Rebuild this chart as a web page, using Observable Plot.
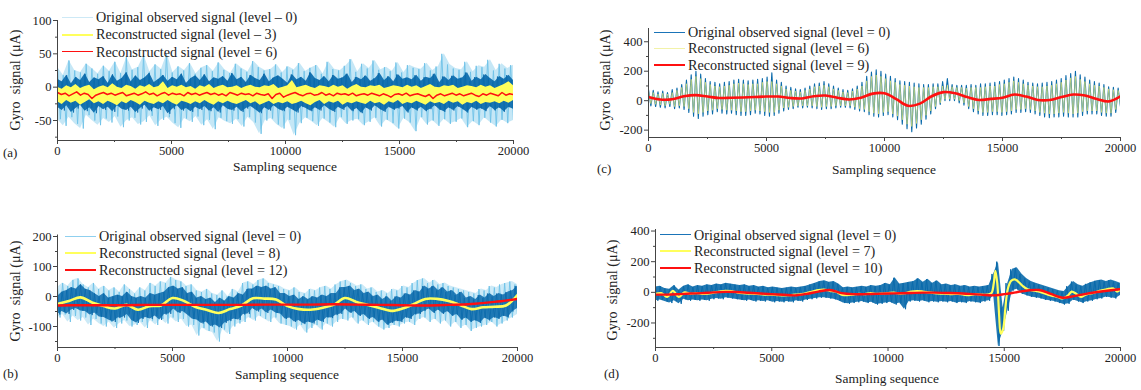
<!DOCTYPE html>
<html><head><meta charset="utf-8">
<script src="https://cdn.jsdelivr.net/npm/d3@7"></script>
<script src="https://cdn.jsdelivr.net/npm/@observablehq/plot@0.6"></script>
<style>
body{margin:0;background:#fff;}
#root{position:relative;width:1141px;height:390px;overflow:hidden;font-family:"Liberation Serif",serif;color:#222;}
.panel{position:absolute;}
.t{position:absolute;white-space:pre;line-height:1;font-size:14.2px;}
.c{transform:translate(-50%,-50%);font-size:13.4px;}
.v{transform:translate(-50%,-50%) rotate(-90deg);font-size:14.2px;}
.p{font-size:13px;}
.lg{position:absolute;height:0;}
</style></head><body><div id="root"></div>
<script>
// ---------- shared axis data ----------
const xTicks = [0, 5000, 10000, 15000, 20000];
const xMinor = [2500, 7500, 12500, 17500];

// ---------- panel (a) ----------
const aLight = [30,-48,18,-58,40,-45,25,-55,22,-62,35,-42,28,-50,20,-57,32,-47,24,-53,
38,-44,21,-60,45,-50,26,-46,30,-56,48,-52,23,-43,34,-58,27,-49,50,-45,
22,-54,31,-61,25,-47,36,-52,20,-44,29,-57,33,-49,24,-63,37,-46,26,-51,
21,-55,35,-48,28,-59,23,-45,39,-53,30,-70,25,-50,27,-47,34,-56,22,-62,
31,-49,26,-72,36,-54,24,-46,29,-51,33,-58,20,-47,38,-53,27,-60,25,-45,
32,-55,42,-50,23,-48,35,-57,28,-52,40,-46,26,-59,30,-49,24,-54,37,-62,
22,-47,33,-53,29,-66,27,-45,36,-56,25,-50,31,-58,50,-48,34,-55,28,-52,
26,-47,38,-60,23,-51,32,-57,30,-46,41,-53,25,-59,35,-49,28,-54,33,-50];
const aDark = [12,-30,8,-35,18,-28,5,-38,15,-32,10,-27,20,-36,7,-31,14,-39,11,-29,
16,-34,6,-30,19,-37,9,-28,13,-33,22,-35,8,-30,17,-38,10,-32,14,-27,
21,-36,7,-31,12,-34,18,-29,9,-40,15,-33,11,-28,20,-35,6,-32,13,-37,
17,-30,10,-34,19,-29,8,-36,14,-31,12,-38,16,-28,9,-33,21,-35,11,-30,
15,-37,7,-32,18,-29,13,-34,10,-39,20,-31,8,-35,14,-28,17,-33,12,-36,
6,-30,19,-34,11,-38,15,-29,9,-32,22,-36,13,-31,10,-35,16,-28,8,-33,
18,-37,12,-30,14,-34,20,-29,7,-36,15,-32,11,-39,17,-31,9,-35,13,-28,
21,-33,10,-37,16,-30,8,-34,19,-32,12,-29,14,-38,11,-31,18,-35,9,-30,
15,-36,13,-33,20,-28,7,-34,16,-37,10,-31,17,-35,12,-29,14,-33,22,-38,
9,-30,15,-34,11,-32,19,-36,13,-29,8,-35,16,-31,12,-37,18,-30,10,-33];
const aYel = [0,-22,-3,-26,2,-20,-1,-24,4,-21,-2,-27,1,-23,3,-19,-4,-25,0,-22,
2,-26,-1,-21,5,-24,0,-28,-2,-22,3,-25,1,-20,-3,-23,2,-27,0,-21,
4,-24,-1,-26,1,-22,8,-25,-2,-20,2,-24,0,-27,3,-21,-1,-23,1,-26,
-3,-22,2,-25,0,-20,4,-24,-2,-27,1,-22,3,-25,-1,-21,0,-24,2,-26,
-2,-23,1,-20,3,-25,0,-22,-1,-27,2,-24,1,-21,4,-26,-2,-23,0,-25,
2,-22,10,-26,-1,-24,1,-21,3,-25,0,-28,-2,-23,2,-20,1,-26,-1,-22,
3,-24,0,-21,2,-27,-3,-23,1,-25,4,-22,0,-24,-1,-26,2,-21,1,-25,
3,-23,-2,-27,0,-22,2,-24,1,-20,-1,-26,3,-23,0,-25,2,-21,-2,-24,
1,-27,4,-22,0,-25,-1,-23,2,-26,1,-21,3,-24,-2,-22,0,-27,2,-23,
1,-25,-1,-21,3,-26,0,-23,2,-24,-2,-22,1,-25,4,-21,8,-24,2,-20];
const aRed = [-8,-11,-9,-13,-10,-7,-12,-9,-11,-17,-12,-10,-8,-11,-9,-12,-10,-8,-13,-11,
-9,-12,-10,-7,-11,-9,-13,-10,-8,-12,-9,-11,-10,-13,-8,-11,-9,-12,-10,-8,
-11,-9,-12,-10,-13,-8,-10,-12,-9,-11,-10,-13,-9,-11,-12,-10,-17,-11,-9,-15,
-12,-10,-8,-11,-13,-10,-9,-12,-11,-8,-12,-10,-13,-9,-11,-10,-12,-9,-13,-11,
-10,-12,-9,-11,-13,-10,-12,-15,-11,-10,-12,-9,-13,-11,-10,-12,-14,-11,-17,-12,
-10,-13,-11,-9,-12,-10,-13,-11,-9,-12,-14,-10,-12,-9,-11,-13,-8,-12,-10,-11];

// ---------- panel (b) ----------
const bLight = [30,-70,45,-60,35,-85,55,-65,60,-80,40,-70,30,-95,45,-75,25,-90,35,-100,
20,-85,30,-105,15,-90,40,-80,25,-100,10,-95,30,-85,20,-105,45,-80,35,-95,
50,-75,45,-90,65,-70,55,-85,50,-75,35,-100,40,-95,20,-130,15,-105,25,-115,
10,-120,5,-150,20,-110,0,-125,25,-100,15,-90,45,-85,50,-70,40,-80,55,-65,
60,-75,45,-85,40,-70,35,-90,25,-95,20,-100,30,-110,15,-95,10,-120,25,-105,
20,-95,30,-110,35,-90,25,-100,40,-85,50,-75,55,-80,45,-70,35,-90,40,-80,
25,-95,30,-85,15,-100,20,-110,10,-105,25,-95,20,-100,35,-90,30,-85,45,-95,
55,-75,60,-70,45,-85,55,-75,40,-90,45,-80,35,-100,30,-85,25,-105,20,-95,
15,-115,10,-105,25,-100,20,-95,35,-85,30,-100,40,-90,45,-80,50,-70,40,-60];
const bDark = [0,-60,15,-50,20,-58,30,-45,25,-40,40,-48,25,-50,20,-62,10,-55,0,-68,
10,-70,-5,-78,0,-85,5,-72,0,-70,15,-60,0,-80,-5,-88,0,-75,-5,-70,
10,-75,5,-65,10,-78,15,-60,30,-58,35,-42,25,-55,30,-50,10,-62,15,-75,
-5,-78,0,-90,-10,-85,-5,-100,-20,-95,-5,-105,-15,-88,0,-82,-5,-75,10,-78,
5,-60,25,-58,25,-40,35,-50,30,-42,35,-55,25,-45,30,-55,10,-58,10,-75,
0,-72,5,-85,-10,-80,0,-92,-10,-85,0,-90,-5,-78,5,-85,0,-70,10,-72,
10,-62,30,-58,30,-42,35,-55,20,-50,25,-65,10,-60,15,-75,0,-70,5,-85,
-10,-78,0,-95,-15,-88,0,-82,-5,-85,10,-70,5,-75,20,-60,15,-58,35,-48,
25,-42,35,-55,20,-45,30,-58,15,-50,20,-65,5,-60,15,-78,-5,-72,0,-85,
-10,-80,5,-88,-5,-72,10,-80,0,-70,10,-75,5,-65,15,-70,20,-50,35,-40];
const bYel = [-25,-15,-3,-20,-32,-40,-28,-44,-32,-30,-5,-15,-35,-45,-55,-42,-30,-6,-7,-10,
-32,-42,-44,-38,-28,-5,-18,-28,-38,-48,-40,-25,-8,-8,-15,-28,-42,-36,-34,-30,5];
const bRed = [-30,-29,-29,-29,-28,-28,-28,-28,-28,-27,-27,-27,-26,-27,-28,-29,-30,-28,-25,-18,-8];

// ---------- panel (c) ----------
const cBlue = [75,-35,70,-40,60,-45,65,-50,55,-40,75,-55,85,-50,110,-60,140,-80,175,-105,
200,-120,180,-105,150,-95,130,-90,125,-75,115,-85,125,-90,130,-85,140,-95,145,-100,
140,-100,135,-95,140,-85,145,-90,150,-100,160,-105,190,-100,140,-85,125,-70,100,-60,
90,-55,80,-45,75,-50,85,-45,100,-50,115,-55,120,-60,130,-55,115,-55,100,-50,
85,-45,75,-45,70,-50,80,-60,100,-70,125,-75,165,-95,195,-105,210,-110,200,-100,
180,-95,165,-110,150,-130,135,-160,130,-190,125,-210,120,-185,115,-160,110,-125,110,-90,
115,-55,115,-25,130,0,150,0,110,0,105,-15,105,-30,105,-55,110,-75,105,-90,
115,-100,115,-100,120,-95,125,-95,130,-100,140,-95,150,-90,160,-80,150,-80,140,-75,
125,-80,120,-90,115,-100,120,-110,125,-115,130,-110,140,-110,150,-105,170,-110,185,-110,
200,-110,175,-100,160,-90,140,-90,130,-90,120,-100,110,-105,95,-105,90,-80,85,-40];
const cYel = [60,-20,55,-25,45,-30,50,-35,45,-25,55,-40,70,-35,90,-40,115,-55,145,-80,
165,-90,150,-80,125,-70,110,-65,100,-55,95,-60,100,-65,105,-65,115,-70,120,-75,
115,-75,110,-70,115,-65,115,-70,125,-75,130,-80,130,-80,115,-65,100,-50,80,-45,
70,-40,65,-35,60,-35,70,-35,80,-35,95,-40,100,-45,105,-40,95,-40,80,-35,
70,-35,60,-35,55,-35,65,-45,80,-55,100,-60,135,-75,165,-85,175,-90,165,-80,
150,-75,135,-90,125,-105,110,-130,105,-160,100,-175,95,-155,90,-130,90,-100,90,-70,
95,-40,95,-15,100,10,105,10,95,10,90,0,90,-15,85,-40,90,-55,90,-70,
90,-80,95,-80,100,-75,100,-75,110,-80,115,-75,125,-70,135,-60,125,-60,115,-55,
105,-60,100,-70,95,-80,95,-85,100,-90,105,-90,115,-85,125,-80,140,-85,155,-90,
165,-85,145,-75,130,-70,115,-70,105,-70,100,-80,90,-85,80,-85,75,-60,70,-25];
const cRed = [25,8,10,30,38,28,18,20,22,25,28,28,18,15,30,35,20,8,20,48,
50,10,-35,-20,30,58,50,25,5,12,20,42,28,5,5,25,42,35,12,-5,30];

// ---------- panel (d) ----------
const dBlue = [35,-55,40,-50,25,-60,20,-70,45,-55,15,-75,40,-45,50,-55,35,-50,45,-55,
40,-50,50,-55,45,-45,55,-40,50,-45,60,-35,55,-40,50,-45,45,-50,50,-55,
40,-50,45,-60,35,-55,40,-60,30,-55,35,-65,30,-60,25,-65,30,-60,35,-65,
30,-55,35,-60,40,-50,50,-45,60,-40,70,-35,75,-35,65,-40,70,-45,55,-55,
30,-70,35,-75,30,-70,35,-65,40,-60,35,-70,45,-65,40,-80,45,-75,60,-70,
50,-65,95,-80,55,-70,60,-110,65,-60,70,-55,90,-60,65,-55,85,-65,60,-60,
75,-65,50,-60,55,-65,45,-60,50,-70,40,-65,45,-70,35,-60,40,-65,35,-70,
40,-60,45,-55,120,-20,200,-350,-100,-250,60,-120,150,10,160,20,120,-10,90,-20,
70,-30,60,-35,50,-40,40,-50,30,-55,20,-60,10,-70,5,-80,40,-75,70,-50,
50,-60,40,-70,55,-60,65,-55,75,-45,80,-40,70,-30,80,-35,70,-40,60,-20];
const dYelX = [0,250,500,750,1000,1250,1500,1750,2000,2250,2500,2750,3000,3250,3500,3750,4000,4250,4500,4750,
5000,5250,5500,5750,6000,6250,6500,6750,7000,7250,7500,7750,8000,8250,8500,8750,9000,9250,9500,9750,
10000,10250,10500,10750,11000,11250,11500,11750,12000,12250,12500,12750,13000,13250,13500,13750,14000,14250,
14450,14550,14620,14700,14780,14850,14950,15050,15150,15300,15450,15600,15800,16000,16300,16600,17000,17300,
17500,17750,17900,18100,18300,18500,18800,19100,19400,19700,19850,20000];
const dYelY = [-10,-5,-30,10,-30,0,-10,-5,-10,-8,-2,5,10,8,0,-5,-8,-10,-12,-15,
-15,-18,-20,-18,-15,-12,-5,5,15,18,10,5,-15,-18,-15,-10,-12,-5,-10,-8,
-5,-2,-8,-5,5,8,5,0,-5,-8,-10,-12,-10,-15,-18,-12,-15,-15,
-5,60,140,60,-150,-270,-240,-100,20,75,85,70,40,20,10,0,-20,-30,
-40,-20,5,-10,-30,-15,-5,10,20,25,5,20];
const dRed = [-15,-15,-12,-8,-5,0,3,2,-3,-8,-12,-16,-20,-10,5,15,-5,-12,-12,-10,
-8,-6,-4,-2,-2,-4,-6,-10,-15,-20,-12,0,12,15,-10,-35,-25,-10,2,12,20];

// ---------- helpers ----------
const even = vals => vals.map((y, i) => ({x: i * 20000 / (vals.length - 1), y}));
const paired = (xs, ys) => xs.map((x, i) => ({x, y: ys[i]}));
// hi/lo pairs of a noisy record -> envelope rows for a filled band
const band = vals => {
  const n = vals.length / 2, rows = [];
  for (let k = 0; k < n; k++) rows.push({x: k * 20000 / (n - 1), hi: vals[2 * k], lo: vals[2 * k + 1]});
  return rows;
};
const root = document.getElementById("root");

function addText(txt, x, y, cls) {
  const d = document.createElement("div");
  d.className = "t " + cls;
  d.style.left = x + "px"; d.style.top = y + "px";
  d.textContent = txt;
  root.appendChild(d);
}
function addLegend(x, y, gap, rows) {
  rows.forEach((r, i) => {
    const cy = y + i * gap;
    const ln = document.createElement("div");
    ln.className = "lg";
    ln.style.left = x + "px"; ln.style.width = "31px";
    ln.style.top = (cy - r.w / 2) + "px"; ln.style.borderTop = r.w + "px solid " + r.color;
    root.appendChild(ln);
    addText(r.label, x + 34, cy - 7.4, "");
  });
}

function seriesMark(s) {
  if (s.band) return Plot.areaY(band(s.band), {x: "x", y1: "lo", y2: "hi", fill: s.color, fillOpacity: s.op || 1, clip: true});
  return Plot.line(s.data, {x: "x", y: "y", stroke: s.color, strokeWidth: s.w, strokeOpacity: s.op || 1, curve: s.curve || "linear", clip: true});
}

function panel(cfg) {
  const marks = [
    ...cfg.series.map(seriesMark),
    Plot.ruleX([0], {stroke: "#444", strokeWidth: 1}),
    Plot.ruleY([cfg.yDomain[0]], {stroke: "#444", strokeWidth: 1}),
    Plot.axisX(xTicks, {tickSize: 4, tickPadding: 2, tickFormat: d => String(d), stroke: "#444", label: null}),
    Plot.axisX(xMinor, {tickSize: 2, tickFormat: () => "", stroke: "#444", label: null}),
    Plot.axisY(cfg.yTicks, {tickSize: 4, tickPadding: 2, tickFormat: d => String(d), stroke: "#444", label: null}),
    Plot.axisY(cfg.yMinor, {tickSize: 2, tickFormat: () => "", stroke: "#444", label: null})
  ];
  const svg = Plot.plot({
    width: cfg.width, height: cfg.height,
    marginLeft: cfg.ml, marginRight: cfg.mr, marginTop: cfg.mt, marginBottom: cfg.mb,
    x: {domain: [0, 20000], label: null},
    y: {domain: cfg.yDomain, label: null},
    style: {fontFamily: "Liberation Serif", fontSize: "12.6px", color: "#222", background: "transparent", overflow: "visible"},
    marks
  });
  svg.classList.add("panel");
  svg.style.left = cfg.left + "px"; svg.style.top = cfg.top + "px";
  root.appendChild(svg);
}

const DB = "#0a6aab", LB = "#6ec2e8", YE = "#ffff5c", RD = "#ff1010";

// (a)
panel({left: 0, top: 0, width: 540, height: 170, ml: 57, mr: 27, mt: 20, mb: 30,
  yDomain: [-80, 100], yTicks: [-50, 0, 50, 100], yMinor: [-75, -25, 25, 75],
  series: [
    {band: aLight, color: LB, op: 0.4},
    {data: even(aLight), color: LB, w: 0.9},
    {band: aDark, color: DB, op: 0.92},
    {data: even(aDark), color: DB, w: 0.8},
    {band: aYel, color: YE},
    {data: even(aRed), color: RD, w: 1.5}
  ]});
// (b)
panel({left: 0, top: 195, width: 540, height: 180, ml: 57, mr: 23, mt: 39.5, mb: 28,
  yDomain: [-170, 205], yTicks: [-100, 0, 100, 200], yMinor: [-150, -50, 50, 150],
  series: [
    {band: bLight, color: LB, op: 0.35},
    {data: even(bLight), color: LB, w: 0.9},
    {band: bDark, color: DB, op: 0.85},
    {data: even(bDark), color: DB, w: 0.8},
    {data: even(bYel), color: YE, w: 2.6, curve: "catmull-rom"},
    {data: even(bRed), color: RD, w: 2.4, curve: "catmull-rom"}
  ]});
// (c)
panel({left: 590, top: 0, width: 551, height: 170, ml: 58, mr: 21, mt: 28, mb: 33,
  yDomain: [-250, 490], yTicks: [-200, 0, 200, 400], yMinor: [-100, 100, 300],
  series: [
    {data: even(cBlue), color: DB, w: 1.1},
    {data: even(cYel), color: "#eeee70", w: 0.8, op: 0.8},
    {data: even(cRed), color: RD, w: 2.6, curve: "catmull-rom"}
  ]});
// (d)
panel({left: 590, top: 195, width: 551, height: 180, ml: 65, mr: 21, mt: 34, mb: 28,
  yDomain: [-360, 410], yTicks: [-200, 0, 200, 400], yMinor: [-300, -100, 100, 300],
  series: [
    {band: dBlue, color: DB, op: 0.9},
    {data: even(dBlue), color: DB, w: 1},
    {data: paired(dYelX, dYelY), color: YE, w: 2.2, curve: "catmull-rom"},
    {data: even(dRed), color: RD, w: 2.4, curve: "catmull-rom"}
  ]});

// axis titles and panel letters
addText("Sampling sequence", 285, 167, "c");
addText("Sampling sequence", 287, 375, "c");
addText("Sampling sequence", 884, 170, "c");
addText("Sampling sequence", 887, 379, "c");
addText("Gyro  signal (\u03bcA)", 15, 80, "v");
addText("Gyro  signal (\u03bcA)", 15, 291, "v");
addText("Gyro  signal (\u03bcA)", 605, 80, "v");
addText("Gyro  signal (\u03bcA)", 612, 290, "v");
addText("(a)", 3, 146, "p");
addText("(b)", 3, 367, "p");
addText("(c)", 597, 162, "p");
addText("(d)", 604, 367, "p");

// legends
addLegend(62, 17, 17.5, [
  {label: "Original observed signal (level \u2013 0)", color: "#cde9f6", w: 1},
  {label: "Reconstructed signal (level \u2013 3)", color: YE, w: 2},
  {label: "Reconstructed signal (level = 6)", color: RD, w: 1.8}
]);
addLegend(65, 236, 17, [
  {label: "Original observed signal (level = 0)", color: "#8fd0ef", w: 1},
  {label: "Reconstructed signal (level = 8)", color: YE, w: 2.6},
  {label: "Reconstructed signal (level = 12)", color: RD, w: 2.4}
]);
addLegend(654, 32, 16.5, [
  {label: "Original observed signal (level = 0)", color: "#1a74b8", w: 1},
  {label: "Reconstructed signal (level = 6)", color: "#f2f2a8", w: 1},
  {label: "Reconstructed signal (level = 9)", color: RD, w: 2.6}
]);
addLegend(660, 235, 16.5, [
  {label: "Original observed signal (level = 0)", color: "#1a74b8", w: 1.4},
  {label: "Reconstructed signal (level = 7)", color: YE, w: 2.4},
  {label: "Reconstructed signal (level = 10)", color: RD, w: 2.4}
]);
</script></body></html>
